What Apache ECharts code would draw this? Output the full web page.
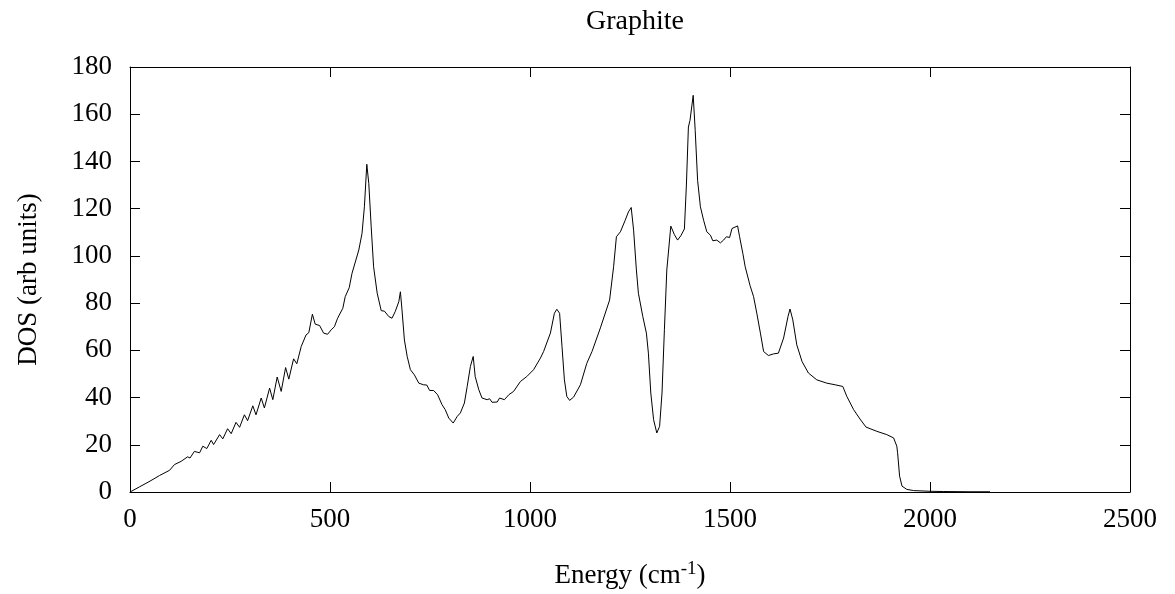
<!DOCTYPE html>
<html>
<head>
<meta charset="utf-8">
<script src="https://cdn.jsdelivr.net/npm/echarts@6/dist/echarts.min.js"></script>
<style>
html,body{margin:0;padding:0;background:#fff;}
#chart{width:1175px;height:594px;}
</style>
</head>
<body>
<div id="chart"></div>
<script>
const titleText = 'Graphite';
const xTicks = [0, 500, 1000, 1500, 2000, 2500];
const yTicks = [0, 20, 40, 60, 80, 100, 120, 140, 160, 180];
const energy = [0,24,50,74,99,111,128,144,150,161,174,182,192,203,209,224,232,244,253,265,274,286,294,307,315,328,336,349,357,368,378,389,397,409,417,428,432,440,447,456,463,474,484,494,503,511,519,532,538,548,555,572,580,586,592,597,603,609,618,628,636,647,655,663,672,676,680,686,693,701,711,722,734,742,749,759,769,780,788,797,808,818,826,836,843,851,858,863,872,880,893,899,905,918,924,936,947,959,976,992,1009,1026,1034,1051,1061,1067,1074,1080,1086,1092,1099,1109,1126,1142,1155,1176,1199,1209,1216,1226,1238,1246,1253,1259,1266,1271,1282,1291,1296,1302,1309,1317,1324,1330,1336,1342,1352,1361,1369,1377,1386,1391,1396,1400,1408,1413,1419,1426,1434,1442,1451,1457,1467,1476,1484,1491,1499,1505,1510,1519,1524,1532,1538,1550,1559,1567,1576,1584,1596,1609,1621,1634,1645,1650,1657,1667,1680,1696,1717,1742,1763,1782,1792,1809,1825,1840,1867,1892,1909,1917,1919,1924,1930,1942,1959,2000,2033,2100,2150];
const dos = [0,2.2,4.6,7,9.2,11.6,13,14.9,14.4,17.2,16.6,19.4,18.4,21.9,20.1,24.3,22.5,26.8,24.7,29.5,27.4,32.7,30.2,36.5,32.7,39.8,35.6,44.0,39.1,48.7,42.6,52.7,47.8,56.4,54.3,61.6,62,66.5,67.5,75.3,71.1,70.5,67.3,66.8,68.7,70,73.6,77.8,82.7,86.5,92.6,102.5,109.5,120.8,138.8,130.6,112.3,95.4,84.2,76.8,76.6,74.3,73.6,76.4,80.6,84.8,77.1,64.4,57.4,51.8,49.6,46.1,45.4,45.3,43,43,41.2,37,34.9,31.3,29.2,32,33.5,37.7,44.7,53.2,57.4,48.9,43.3,39.8,39.1,39.5,38,38.1,39.8,39.1,41.2,42.6,46.8,48.9,51.8,56.7,59.5,67.3,75.7,77.4,75.7,61.6,47.5,40.5,38.8,40.2,45.4,54.5,59.5,69.5,81.3,95.4,108.1,110.2,115.1,118.6,120.5,110.9,94,84.2,74.3,67.3,58.8,41.9,30.6,25,27.8,41.9,68.7,94,112.6,109,106.7,108.5,111.4,130,154.6,157.4,168,153.2,132,120.8,115.1,110.2,108.8,106.4,106.7,105.5,106.7,108.1,107.8,111.6,110.9,112.7,108.1,101.1,95.4,87.5,82.7,75.7,67.3,59.5,57.8,58.5,58.8,65.2,74.3,77.5,72.9,62.3,55.3,50.4,47.5,46.1,45.4,44.7,40.5,34.9,30.9,27.5,25.7,24.3,22.9,19.4,16.6,6.7,2.5,1.1,0.6,0.3,0.2,0.1,0.1];

const FONT = '"Liberation Serif", "Times New Roman", serif';
const FS = 27;
const data = energy.map((e, i) => [e, dos[i]]);

const axisCommon = {
  type: 'value',
  splitLine: { show: false },
  axisLine: { show: true, onZero: false, lineStyle: { color: '#000', width: 1 } },
  axisTick: { show: true, inside: true, length: 10, lineStyle: { color: '#000', width: 1 } }
};

const chart = echarts.init(document.getElementById('chart'), null, { renderer: 'canvas' });
chart.setOption({
  animation: false,
  backgroundColor: '#fff',
  title: {
    text: titleText, left: 630, textAlign: 'center', top: 3,
    textStyle: { fontFamily: FONT, fontSize: 28, fontWeight: 'normal', color: '#000' }
  },
  grid: { left: 130, right: 45, top: 67, bottom: 102 },
  xAxis: [
    Object.assign({}, axisCommon, {
      position: 'bottom', min: xTicks[0], max: xTicks[xTicks.length - 1], interval: 500,
      axisLabel: { fontFamily: FONT, fontSize: FS, color: '#000', margin: 14, formatter: v => String(v) },
      name: 'Energy (cm{sup|-1})', nameLocation: 'middle', nameGap: 68,
      nameTextStyle: { fontFamily: FONT, fontSize: FS, color: '#000',
        rich: { sup: { fontFamily: FONT, fontSize: 19, color: '#000', verticalAlign: 'bottom', padding: [0, 0, 12, 0] } } }
    }),
    Object.assign({}, axisCommon, {
      position: 'top', min: xTicks[0], max: xTicks[xTicks.length - 1], interval: 500,
      axisLabel: { show: false }
    })
  ],
  yAxis: [
    Object.assign({}, axisCommon, {
      position: 'left', min: yTicks[0], max: yTicks[yTicks.length - 1], interval: 20,
      axisLabel: { fontFamily: FONT, fontSize: FS, color: '#000', margin: 18, formatter: v => String(v) },
      name: 'DOS (arb units)', nameLocation: 'middle', nameGap: 88,
      nameTextStyle: { fontFamily: FONT, fontSize: FS, color: '#000' }
    }),
    Object.assign({}, axisCommon, {
      position: 'right', min: yTicks[0], max: yTicks[yTicks.length - 1], interval: 20,
      axisLabel: { show: false }
    })
  ],
  series: [{
    type: 'line', xAxisIndex: 0, yAxisIndex: 0,
    data: data, showSymbol: false, smooth: false,
    lineStyle: { color: '#000', width: 1 }
  }]
});
</script>
</body>
</html>
